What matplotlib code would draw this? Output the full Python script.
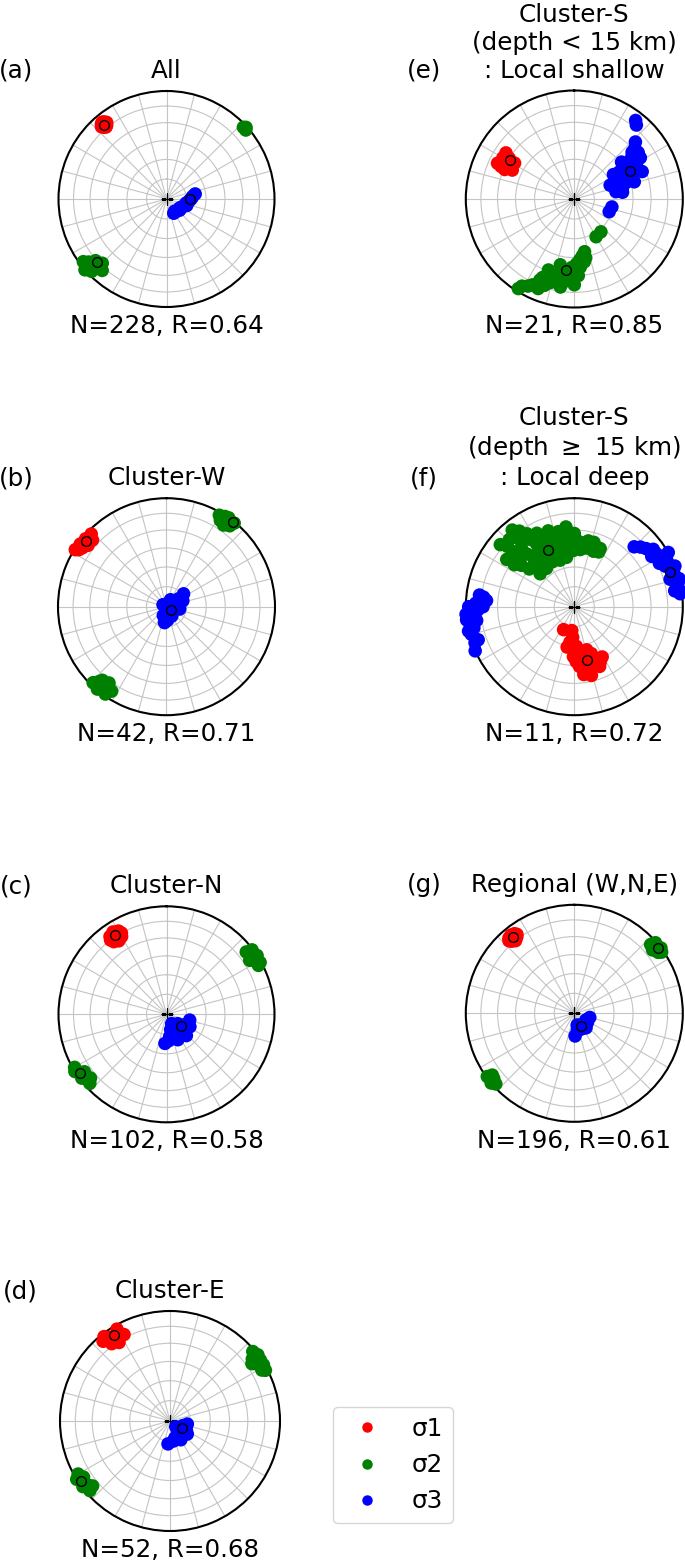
import numpy as np
import matplotlib
matplotlib.use("Agg")
import matplotlib.pyplot as plt
from matplotlib.lines import Line2D

# panels (a)-(g): labels, titles and numbers
panel_labels = ["(a)", "(b)", "(c)", "(d)", "(e)", "(f)", "(g)"]
titles = ["All", "Cluster-W", "Cluster-N", "Cluster-E",
          "Cluster-S\n(depth < 15 km)\n: Local shallow",
          "Cluster-S\n(depth $\\geq$ 15 km)\n: Local deep",
          "Regional (W,N,E)"]
n_events = [228, 42, 102, 52, 21, 11, 196]
r_values = [0.64, 0.71, 0.58, 0.68, 0.85, 0.72, 0.61]

# stress axes, (trend, plunge) in degrees
a_s1 = [(320, 11), (320, 14), (320, 8), (318, 11), (322, 11), (319, 13), (321, 9), (319, 9), (321, 13)]
a_s2 = [(48, 1), (47, 3), (49, 3), (229, 0), (228, 5), (226, 4), (231, 8), (225, 14), (229, 14),
        (225, 17), (222, 12), (227, 10), (233, 4)]
a_s3 = [(153, 78), (124, 78), (102, 75), (88, 71), (80, 68), (140, 78), (112, 76), (95, 73), (84, 70),
        (130, 77), (108, 74), (92, 72), (146, 79), (118, 77)]

b_s1 = [(302, 1), (306, 2), (310, 3), (314, 4), (312, 9), (305, 6), (308, 9), (309, 5), (303, 4)]
b_s2 = [(30, 3), (32, 7), (35, 9), (36, 4), (39, 1), (33, 1), (38, 6), (35, 0),
        (215, 2), (220, 1), (224, 3), (213, 8), (218, 10), (222, 8), (217, 5), (217, 13), (221, 11)]
b_s3 = [(187, 78), (165, 84), (84, 84), (57, 79), (53, 74), (180, 87), (300, 87), (100, 80),
        (200, 83), (70, 77), (150, 82), (120, 84), (60, 82), (175, 80), (140, 86), (30, 84)]

c_s1 = [(327, 15), (327, 20), (327, 10), (323, 15), (331, 15), (324, 18), (330, 12), (324, 12), (330, 18)]
c_s2 = [(57, 0), (53, 1), (61, 1), (55, 5), (59, 5), (52, 7), (57, 9), (62, 4),
        (238, 0), (236, 4), (240, 2), (233, 2), (233, 7), (230, 9), (235, 8), (228, 5)]
c_s3 = [(104, 72), (123, 75), (151, 76), (172, 73), (183, 68), (156, 69), (137, 68), (151, 82),
        (118, 70), (165, 78), (140, 74), (160, 73), (130, 79), (175, 70)]

d_s1 = [(320, 6), (324, 7), (329, 8), (332, 12), (327, 16), (323, 13), (326, 11), (330, 4), (322, 3)]
d_s2 = [(50, 2), (53, 0), (56, 1), (59, 1), (62, 2), (61, 5), (57, 6), (53, 7), (55, 10),
        (236, 3), (238, 0), (233, 1), (232, 6), (237, 7), (229, 4), (240, 4), (230, 9)]
d_s3 = [(100, 77), (132, 78), (164, 77), (185, 73), (135, 84), (127, 74), (110, 80), (150, 74),
        (145, 80), (120, 76), (170, 75)]

e_s1 = [(304, 25), (300, 25), (302, 30), (295, 23), (298, 30), (301, 36), (293, 31), (295, 37), (294, 27)]
e_s2 = [(141, 58), (150, 57), (169, 49), (175, 43), (169, 44), (182, 37), (175, 37), (191, 32),
        (183, 31), (199, 26), (193, 24), (186, 25), (203, 20), (199, 17), (206, 13), (211, 7), (212, 3),
        (178, 40), (188, 28), (196, 21), (208, 10), (172, 46), (185, 34), (195, 28), (202, 23),
        (190, 29), (180, 33), (192, 38), (200, 31), (180, 22), (189, 19), (202, 12), (177, 30),
        (171, 41)]
e_s3 = [(38, 9), (40, 12), (47, 24), (51, 32), (54, 28), (52, 44), (56, 38), (59, 33), (59, 50),
        (63, 44), (66, 38), (69, 54), (72, 48), (74, 42), (80, 58), (82, 53), (102, 61), (110, 62),
        (50, 28), (61, 40), (70, 45), (76, 52), (58, 45), (65, 50), (54, 35), (62, 36),
        (58, 55), (69, 61), (58, 29), (68, 33)]

f_s1 = [(205, 71), (186, 72), (187, 63), (177, 60), (173, 53), (181, 52), (160, 47), (157, 40),
        (167, 37), (175, 44), (151, 46), (164, 56), (172, 37), (190, 59), (166, 35), (168, 44),
        (183, 67), (179, 57), (170, 49), (162, 42), (172, 41), (160, 52), (178, 48), (155, 43)]
f_s2 = [(321, 10), (327, 21), (339, 30), (354, 27), (353, 41), (12, 44), (24, 41), (312, 18),
        (309, 32), (314, 46), (314, 54), (318, 35), (331, 46), (345, 48), (359, 47), (342, 38),
        (329, 33), (310, 12), (312, 25), (324, 54), (17, 38), (5, 40), (308, 38), (343, 53),
        (321, 22), (331, 40), (351, 52), (19, 45), (346, 34), (334, 29),
        (336, 36), (348, 42), (0, 35), (318, 28), (325, 40), (305, 25), (340, 50), (355, 34),
        (316, 15), (324, 15), (333, 25), (341, 27), (348, 30), (327, 27), (320, 42), (328, 50),
        (336, 45), (345, 40), (352, 46), (358, 40), (6, 46), (12, 38), (24, 44), (305, 33),
        (310, 45), (318, 50), (334, 52), (0, 33)]
f_s3 = [(45, 23), (51, 16), (57, 11), (63, 5), (70, 3), (77, 2), (83, 2), (63, 13), (74, 9),
        (54, 11), (81, 7), (75, 0), (68, 0), (60, 0), (82, 0), (48, 19), (60, 8), (66, 9),
        (72, 5), (79, 4), (57, 16),
        (277, 13), (270, 17), (262, 10), (255, 2), (246, 0), (263, 0), (270, 3), (251, 7),
        (274, 20), (266, 0), (258, 6), (272, 10), (266, 7), (260, 3), (268, 12), (257, 0),
        (250, 3), (276, 17)]

g_s1 = [(321, 11), (321, 8), (321, 15), (318, 11), (324, 11), (319, 13), (323, 9), (319, 9), (323, 13)]
g_s2 = [(51, 4), (49, 1), (53, 0), (48, 6), (54, 5), (51, 8), (55, 2),
        (232, 2), (230, 0), (234, 1), (231, 5), (228, 3), (233, 6)]
g_s3 = [(105, 78), (133, 79), (163, 77), (178, 73), (166, 81), (141, 76), (120, 80), (150, 80),
        (150, 77), (125, 78), (170, 77)]

# best-fit axes (open circles), order s1, s2, s3
means = [
    [(320, 11), (228, 14), (90, 72)],
    [(309, 5), (38, 1), (125, 86)],
    [(327, 13), (236, 4), (128, 76)],
    [(327, 8), (236, 3), (120, 80)],
    [(301, 31), (187, 34), (63, 42)],
    [(167, 48), (335, 42), (70, 7)],
    [(321, 11), (52, 2), (151, 79)],
]

clouds = [(a_s1, a_s2, a_s3), (b_s1, b_s2, b_s3), (c_s1, c_s2, c_s3), (d_s1, d_s2, d_s3),
          (e_s1, e_s2, e_s3), (f_s1, f_s2, f_s3), (g_s1, g_s2, g_s3)]
colors = ["red", "green", "blue"]
names = ["σ1", "σ2", "σ3"]


def proj(pts):
    # lower hemisphere equal-area projection
    pts = np.asarray(pts, dtype=float)
    t = np.radians(pts[:, 0])
    r = np.sqrt(2) * np.sin(np.radians(90 - pts[:, 1]) / 2)
    return t, r


W, H = 685, 1564
FS = 17.7
# panel centre (px) and radius (px)
boxes = [(166.5, 199, 108), (166.5, 606.7, 108.5), (166.5, 1014.3, 108), (170, 1421, 110),
         (574.3, 199, 108.5), (574.3, 606.7, 108.5), (574.3, 1013.3, 108.5)]

fig = plt.figure(figsize=(W / 100, H / 100), dpi=100)

ring_plunges = [75, 60, 45, 30, 15]
ring_r = np.sqrt(2) * np.sin(np.radians(90 - np.array(ring_plunges)) / 2)

for i, (cx, cy, R) in enumerate(boxes):
    ax = fig.add_axes([(cx - R) / W, 1 - (cy + R) / H, 2 * R / W, 2 * R / H], projection="polar")
    ax.set_theta_zero_location("N")
    ax.set_theta_direction(-1)
    ax.set_ylim(0, 1)
    ax.set_yticks(ring_r)
    ax.set_xticks(np.radians(np.arange(0, 360, 15)))
    ax.set_xticklabels([])
    ax.set_yticklabels([])
    ax.grid(True, color="#c4c4c4", lw=0.8)
    ax.spines["polar"].set_linewidth(1.5)
    ax.spines["polar"].set_color("black")

    for pts, col in zip(clouds[i], colors):
        t, r = proj(pts)
        ax.scatter(t, r, s=95, color=col, edgecolors="none", clip_on=False, zorder=3)
    t, r = proj(means[i])
    ax.plot(t, r, "o", mfc="none", mec="black", ms=7, mew=1, clip_on=False, zorder=4)
    ax.plot(0, 0, "+", color="black", ms=9, mew=0.9, zorder=2)

    d = 2 * R
    ax.text(0.5 - 150 / d, 1 + 8 / d, panel_labels[i], transform=ax.transAxes,
            ha="center", va="bottom", fontsize=FS)
    ax.text(0.5, 1 + 8 / d, titles[i], transform=ax.transAxes,
            ha="center", va="bottom", fontsize=FS, multialignment="center")
    ax.text(0.5, -26 / d, f"N={n_events[i]}, R={r_values[i]:.2f}", transform=ax.transAxes,
            ha="center", va="baseline", fontsize=FS)

handles = [Line2D([], [], marker="o", ls="", color=c, ms=6.5) for c in colors]
fig.legend(handles, names, loc="upper left", bbox_to_anchor=(333 / W, 1 - 1407 / H),
           fontsize=FS, borderaxespad=0)

fig.savefig("out.png", dpi=100)
